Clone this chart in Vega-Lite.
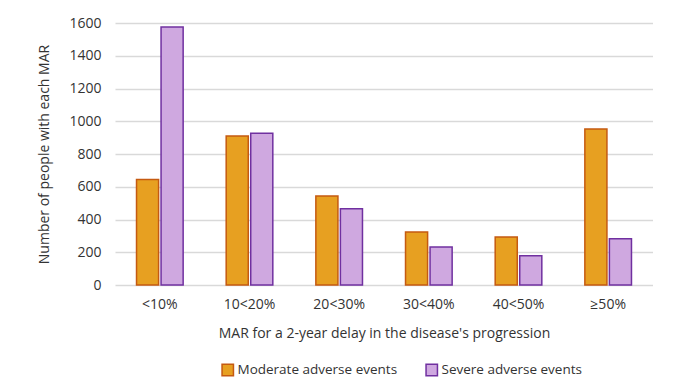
{
  "$schema": "https://vega.github.io/schema/vega-lite/v6.json",
  "width": 538,
  "height": 262,
  "padding": {"left": 37, "top": 16, "right": 0, "bottom": 0},
  "background": "white",
  "config": {
    "font": "Open Sans",
    "view": {"stroke": null},
    "axis": {"labelColor": "#333333", "titleColor": "#333333", "labelFontSize": 14, "titleFontSize": 14, "titleFontWeight": "normal"}
  },
  "data": {
    "values": [
      {"mar": "<10%", "type": "Moderate adverse events", "n": 645},
      {"mar": "<10%", "type": "Severe adverse events", "n": 1575},
      {"mar": "10<20%", "type": "Moderate adverse events", "n": 910},
      {"mar": "10<20%", "type": "Severe adverse events", "n": 926},
      {"mar": "20<30%", "type": "Moderate adverse events", "n": 543},
      {"mar": "20<30%", "type": "Severe adverse events", "n": 465},
      {"mar": "30<40%", "type": "Moderate adverse events", "n": 324},
      {"mar": "30<40%", "type": "Severe adverse events", "n": 232},
      {"mar": "40<50%", "type": "Moderate adverse events", "n": 293},
      {"mar": "40<50%", "type": "Severe adverse events", "n": 178},
      {"mar": "≥50%", "type": "Moderate adverse events", "n": 952},
      {"mar": "≥50%", "type": "Severe adverse events", "n": 282}
    ]
  },
  "mark": {"type": "bar", "strokeWidth": 1.5},
  "encoding": {
    "x": {
      "field": "mar", "type": "nominal", "sort": null,
      "scale": {"paddingInner": 0.48, "paddingOuter": 0.24},
      "axis": {"title": "MAR for a 2-year delay in the disease's progression", "labelAngle": 0, "domain": false, "ticks": false, "labelPadding": 12, "titlePadding": 15}
    },
    "xOffset": {"field": "type", "type": "nominal", "scale": {"paddingInner": 0.1}},
    "y": {
      "field": "n", "type": "quantitative",
      "scale": {"domain": [0, 1600]},
      "axis": {"title": "Number of people with each MAR", "format": "d", "values": [0, 200, 400, 600, 800, 1000, 1200, 1400, 1600], "domain": false, "ticks": false, "labelPadding": 14, "titlePadding": 17, "gridColor": "#d9d9d9", "gridWidth": 1.3}
    },
    "fill": {
      "field": "type", "type": "nominal",
      "scale": {"domain": ["Moderate adverse events", "Severe adverse events"], "range": ["#e7a021", "#cfa8e0"]},
      "legend": {"title": null, "orient": "none", "legendX": 106, "legendY": 340, "direction": "horizontal", "symbolType": "square", "symbolSize": 130, "symbolStrokeWidth": 1.5, "labelFontSize": 13.5, "labelColor": "#333333", "labelLimit": 0, "columnPadding": 25, "labelOffset": 3}
    },
    "stroke": {
      "field": "type", "type": "nominal",
      "scale": {"domain": ["Moderate adverse events", "Severe adverse events"], "range": ["#c55a11", "#7030a0"]},
      "legend": null
    }
  }
}
